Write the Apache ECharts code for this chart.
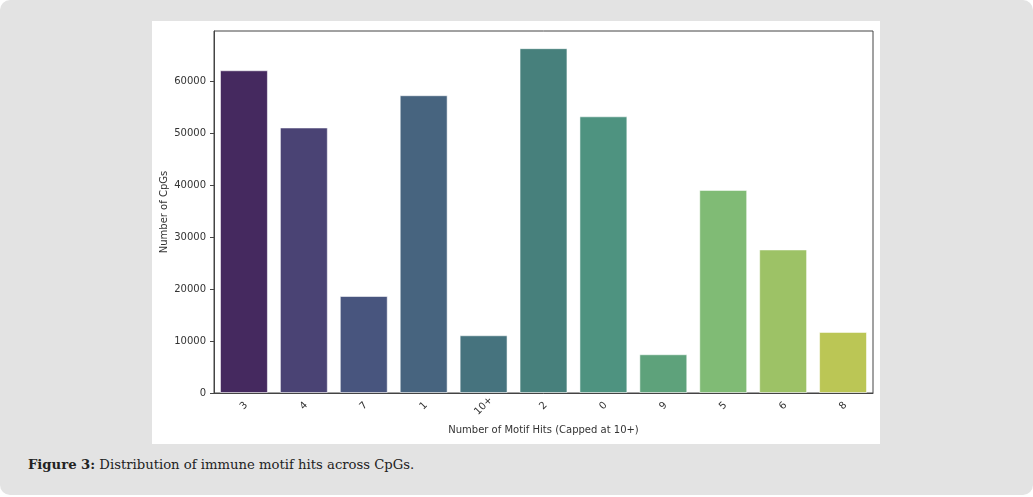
<!DOCTYPE html>
<html>
<head>
<meta charset="utf-8">
<style>
  html, body { margin: 0; padding: 0; background: #ffffff; }
  #panel {
    position: absolute; left: 0; top: 0; width: 1033px; height: 495px;
    background: #e3e3e3; border-radius: 10px;
  }
  #figure {
    position: absolute; left: 152px; top: 21px; width: 728px; height: 423px;
    background: #ffffff;
  }
  #caption {
    position: absolute; left: 28px; top: 457px;
    font-family: "DejaVu Serif", "Liberation Serif", serif; font-size: 13.2px; color: #222;
  }
</style>
</head>
<body>
<div id="panel">
  <div id="figure"></div>
  <div id="caption"><b>Figure 3:</b> Distribution of immune motif hits across CpGs.</div>
</div>
<script src="https://cdn.jsdelivr.net/npm/echarts@6/dist/echarts.min.js"></script>
<script>
  // motif hit categories, in the order they were plotted
  const categories = ['3', '4', '7', '1', '10+', '2', '0', '9', '5', '6', '8'];
  const counts = [62050, 51050, 18650, 57250, 11100, 66300, 53200, 7450, 39050, 27600, 11750];
  const barColors = ['#45295f', '#4a4374', '#48557e', '#47647f', '#46737e', '#47807c',
                     '#4e9380', '#5ea27b', '#80bb75', '#9dc266', '#bbc655'];
  const yTicks = [0, 10000, 20000, 30000, 40000, 50000, 60000];

  const chart = echarts.init(document.getElementById('figure'));
  const axisColor = '#444';
  const labelColor = '#333';

  chart.setOption({
    animation: false,
    grid: {
      left: 62, top: 10, right: 7, bottom: 51,
      containLabel: false, outerBoundsMode: 'none',
      show: true, borderColor: axisColor, borderWidth: 1
    },
    xAxis: {
      type: 'category',
      data: categories,
      name: 'Number of Motif Hits (Capped at 10+)',
      nameLocation: 'middle',
      nameGap: 32,
      nameMoveOverlap: false,
      nameTextStyle: { fontFamily: 'DejaVu Sans', fontSize: 10, color: labelColor },
      axisLine: { lineStyle: { color: axisColor, width: 1 } },
      axisTick: { alignWithLabel: true, length: 4, lineStyle: { color: axisColor } },
      axisLabel: {
        rotate: 45, align: 'center', verticalAlign: 'middle', margin: 13,
        fontFamily: 'DejaVu Sans', fontSize: 10, color: labelColor
      }
    },
    yAxis: {
      type: 'value',
      min: 0, max: 69600,
      name: 'Number of CpGs',
      nameLocation: 'middle',
      nameGap: 45,
      nameMoveOverlap: false,
      nameTextStyle: { fontFamily: 'DejaVu Sans', fontSize: 10, color: labelColor },
      splitLine: { show: false },
      axisLine: { show: true, lineStyle: { color: axisColor, width: 1 } },
      axisTick: { show: true, length: 4, customValues: yTicks, lineStyle: { color: axisColor } },
      axisLabel: {
        margin: 8, customValues: yTicks,
        formatter: v => String(v),
        fontFamily: 'DejaVu Sans', fontSize: 10, color: labelColor
      }
    },
    series: [{
      type: 'bar',
      barCategoryGap: '20%',
      data: counts.map((v, i) => ({
        value: v,
        itemStyle: { color: barColors[i], borderColor: 'rgba(255,255,255,0.55)', borderWidth: 1 }
      }))
    }]
  });
</script>
</body>
</html>
